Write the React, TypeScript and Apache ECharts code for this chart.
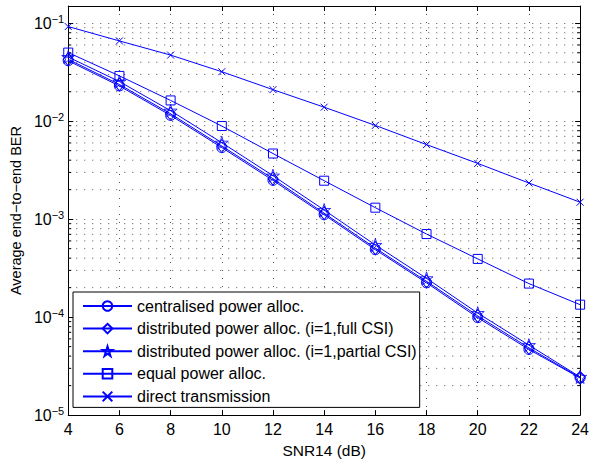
import React, { useEffect, useRef } from "react";
import * as echarts from "echarts";

const snr = [4, 6, 8, 10, 12, 14, 16, 18, 20, 22, 24];
const centralised = [0.0414, 0.0229, 0.01146, 0.00538, 0.00249, 0.00111, 0.000488, 0.000224, 0.0000988, 0.0000468, 0.0000239];
const distributedFull = [0.0428, 0.0237, 0.0119, 0.00558, 0.00259, 0.00115, 0.000506, 0.000232, 0.000103, 0.0000486, 0.0000241];
const distributedPartial = [0.0452, 0.0254, 0.0128, 0.00603, 0.00278, 0.00124, 0.000545, 0.000249, 0.00011, 0.0000518, 0.0000245];
const equalPower = [0.0502, 0.029, 0.0163, 0.00893, 0.00468, 0.00247, 0.00131, 0.000705, 0.000393, 0.00022, 0.000134];
const direct = [0.0925, 0.066, 0.0473, 0.032, 0.021, 0.0139, 0.00906, 0.00577, 0.00371, 0.00234, 0.00149];

const yMin = 1e-5;
const yMax = 0.15;
const decades = [-5, -4, -3, -2];
const minorMultipliers = [2, 3, 4, 5, 6, 7, 8, 9];

const seriesNames = [
  "centralised power alloc.",
  "distributed power alloc. (i=1,full CSI)",
  "distributed power alloc. (i=1,partial CSI)",
  "equal power alloc.",
  "direct transmission",
];

const BLUE = "#0000ff";
const GRID = "#555";
const FONT = "Liberation Sans, Arial, Helvetica, sans-serif";

const STAR = "path://M50,0L61.2,34.5L97.6,34.5L68.2,55.9L79.4,90.5L50,69.1L20.6,90.5L31.8,55.9L2.4,34.5L38.8,34.5Z";
const CROSS = "path://M0,0L10,10M10,0L0,10";

export default function App() {
  const ref = useRef<HTMLDivElement>(null);
  useEffect(() => {
    if (!ref.current) return;
    const chart = echarts.init(ref.current, null, { renderer: "svg" });

    const minorValues: number[] = [];
    decades.forEach((d) => minorMultipliers.forEach((m) => minorValues.push(m * Math.pow(10, d))));

    const mk = (name: string, vals: number[], symbol: string, size: any, bw = 1) => ({
      name,
      type: "line",
      data: snr.map((x, i) => [x, vals[i]]),
      symbol,
      symbolSize: size,
      showSymbol: true,
      showAllSymbol: true,
      z: 3,
      lineStyle: { color: BLUE, width: 1 },
      itemStyle: { color: "none", borderColor: BLUE, borderWidth: bw },
      emphasis: { disabled: true },
    });

    const superscript = (v: number) => {
      const e = Math.log10(v);
      const r = Math.round(e);
      if (Math.abs(e - r) > 1e-6) return "";
      return "{b|10}{s|" + (r < 0 ? "\u2212" : "") + Math.abs(r) + "}";
    };

    chart.setOption({
      animation: false,
      grid: { left: 63, top: 6, width: 521, height: 412, containLabel: false },
      xAxis: [
        {
          type: "value",
          min: 4,
          max: 24,
          interval: 2,
          name: "SNR14 (dB)",
          nameLocation: "middle",
          nameGap: 26,
          nameTextStyle: { fontSize: 15.5, fontFamily: FONT, color: "#000" },
          axisLine: { lineStyle: { color: "#000", width: 1 } },
          axisTick: { inside: true, length: 5, lineStyle: { color: "#000" } },
          axisLabel: { fontSize: 16, fontFamily: FONT, color: "#000", margin: 6 },
          splitLine: { show: true, lineStyle: { color: GRID, width: 1, type: [1, 7] } },
        },
        {
          type: "value",
          position: "top",
          min: 4,
          max: 24,
          interval: 2,
          axisLine: { lineStyle: { color: "#000", width: 1 } },
          axisTick: { inside: true, length: 5, lineStyle: { color: "#000" } },
          axisLabel: { show: false },
          splitLine: { show: false },
        },
      ],
      yAxis: [
        {
          type: "log",
          logBase: 10,
          min: yMin,
          max: yMax,
          name: "Average end\u2212to\u2212end BER",
          nameLocation: "middle",
          nameGap: 42,
          nameTextStyle: { fontSize: 14.5, fontFamily: FONT, color: "#000" },
          axisLine: { lineStyle: { color: "#000", width: 1 } },
          axisTick: { inside: true, length: 5, lineStyle: { color: "#000" } },
          axisLabel: {
            margin: 4,
            formatter: superscript,
            rich: {
              b: { fontSize: 16, fontFamily: FONT, color: "#000" },
              s: { fontSize: 11, fontFamily: FONT, color: "#000", padding: [0, 0, 9, 0] },
            },
          },
          splitLine: { show: true, lineStyle: { color: GRID, width: 1, type: [1, 7] } },
        },
        {
          type: "log",
          logBase: 10,
          min: yMin,
          max: yMax,
          position: "right",
          axisLine: { lineStyle: { color: "#000", width: 1 } },
          axisTick: { inside: true, length: 5, lineStyle: { color: "#000" } },
          axisLabel: { show: false },
          splitLine: { show: false },
        },
      ],
      legend: {
        data: seriesNames,
        orient: "vertical",
        left: 73,
        top: 292,
        itemWidth: 49,
        itemHeight: 12,
        itemGap: 6.6,
        padding: [6, 3, 3, 9],
        borderColor: "#000",
        borderWidth: 1,
        borderRadius: 0,
        backgroundColor: "#fff",
        selectedMode: false,
        textStyle: { fontSize: 16, fontFamily: FONT, color: "#000", lineHeight: 16 },
      },
      series: [
        {
          name: "minor",
          type: "custom",
          z: 1,
          silent: true,
          data: minorValues.map((v) => [4, v]),
          renderItem: (params: any, api: any) => {
            const v = api.value(1);
            const l = api.coord([4, v]);
            const r = api.coord([24, v]);
            return {
              type: "group",
              children: [
                { type: "line", shape: { x1: l[0], y1: l[1], x2: r[0], y2: r[1] }, style: { stroke: GRID, lineWidth: 1, lineDash: [1, 7] } },
                { type: "line", shape: { x1: l[0], y1: l[1], x2: l[0] + 3, y2: l[1] }, style: { stroke: "#000", lineWidth: 1 } },
                { type: "line", shape: { x1: r[0] - 3, y1: r[1], x2: r[0], y2: r[1] }, style: { stroke: "#000", lineWidth: 1 } },
              ],
            };
          },
        },
        mk(seriesNames[0], centralised, "circle", 10),
        mk(seriesNames[1], distributedFull, "diamond", [10, 13]),
        mk(seriesNames[2], distributedPartial, STAR, 13, 0.8),
        mk(seriesNames[3], equalPower, "rect", 9),
        mk(seriesNames[4], direct, CROSS, 7),
      ],
    });
    return () => chart.dispose();
  }, []);
  return <div ref={ref} style={{ position: "absolute", left: 0, top: 0, width: 592, height: 463, background: "#fff" }} />;
}
